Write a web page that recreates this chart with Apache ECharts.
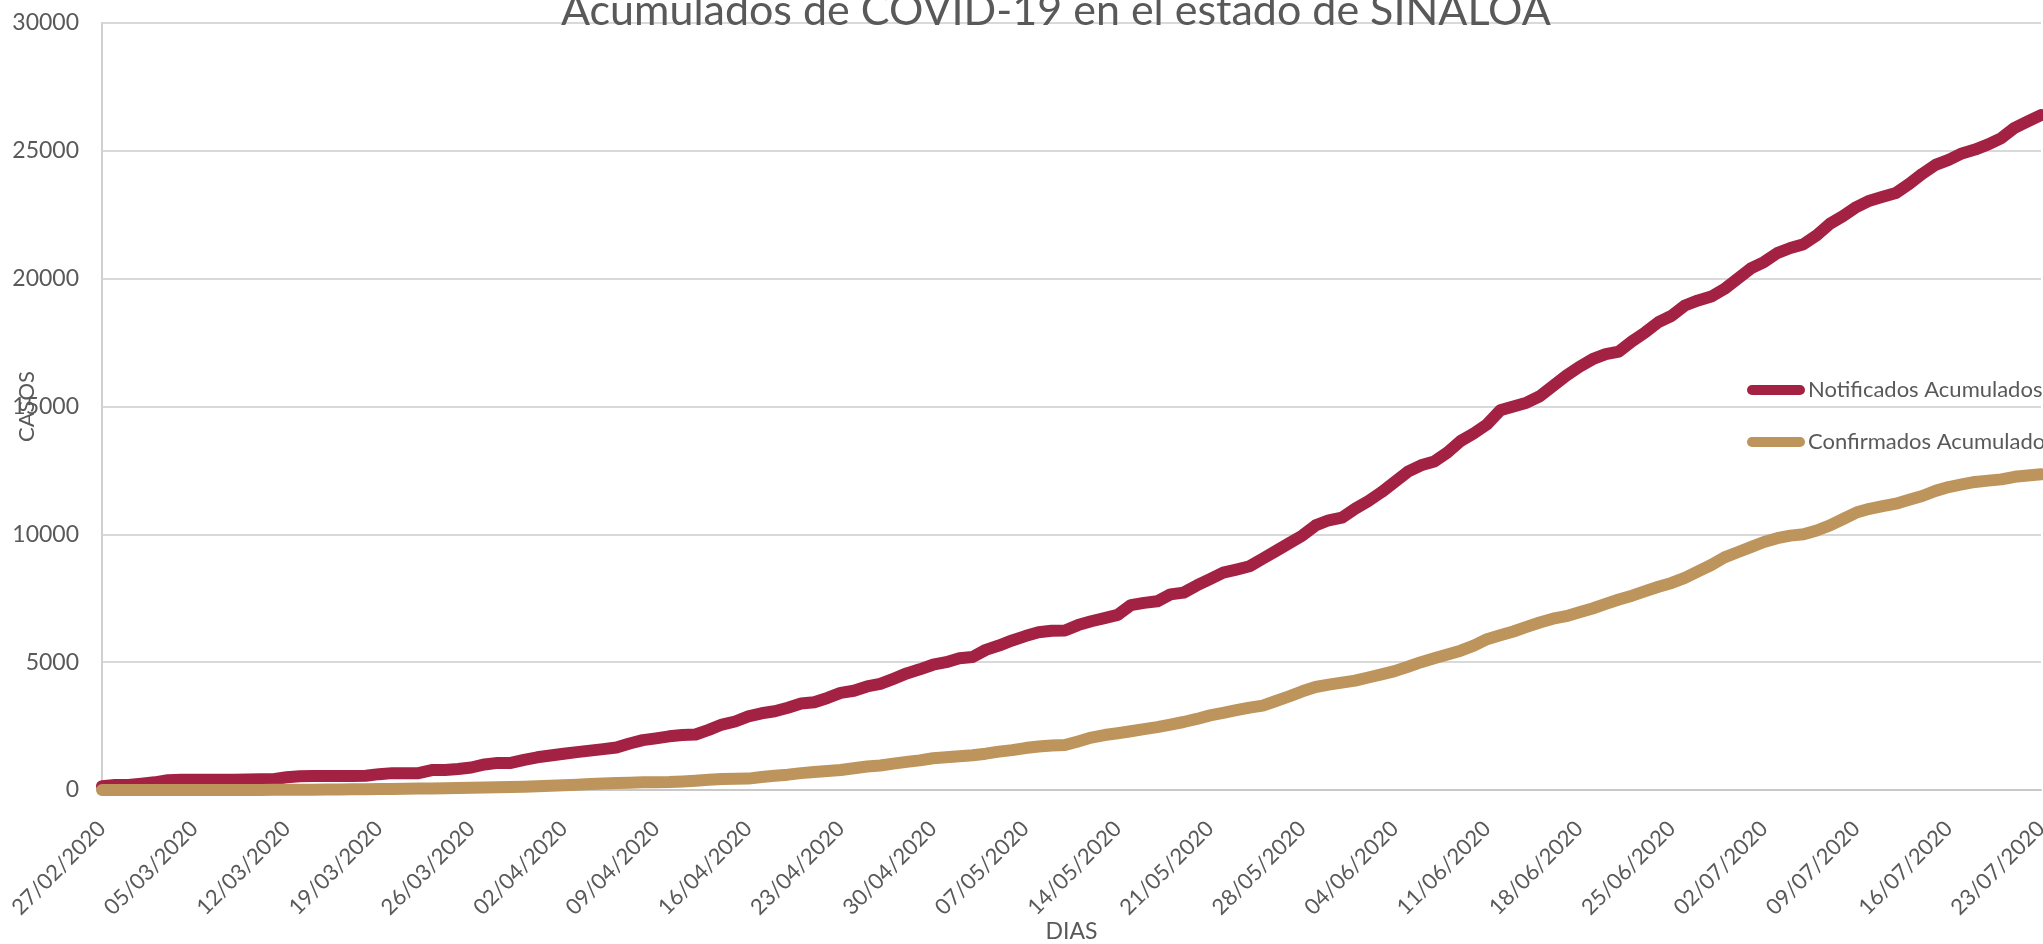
<!DOCTYPE html>
<html>
<head>
<meta charset="utf-8">
<script src="https://cdn.jsdelivr.net/npm/echarts@6/dist/echarts.min.js"></script>
<style>
  html, body { margin: 0; padding: 0; background: #fff; }
  #chart { width: 2043px; height: 944px; }
</style>
</head>
<body>
<div id="chart"></div>
<script>
var START_DATE = [2020, 1, 27]; // 27/02/2020
var NUM_DAYS = 148;

var notificados = [
    150, 200, 200, 250, 300, 380, 400, 400, 400, 400,
    400, 410, 420, 420, 500, 540, 550, 550, 550, 550,
    560, 620, 660, 660, 660, 780, 780, 820, 880, 1000,
    1060, 1060, 1180, 1280, 1350, 1420, 1480, 1540, 1600, 1660,
    1820, 1950, 2020, 2100, 2150, 2170, 2350, 2560, 2680, 2880,
    3000, 3080, 3220, 3380, 3430, 3600, 3800, 3880, 4050, 4150,
    4350, 4560, 4720, 4900, 5000, 5150, 5200, 5480, 5650, 5850,
    6020, 6170, 6230, 6240, 6450, 6600, 6720, 6850, 7230, 7320,
    7380, 7650, 7720, 8000, 8250, 8500, 8620, 8750, 9050, 9350,
    9650, 9950, 10350, 10550, 10650, 11000, 11300, 11650, 12050, 12450,
    12700, 12850, 13200, 13650, 13950, 14300, 14850, 15000, 15150, 15400,
    15800, 16200, 16550, 16850, 17050, 17150, 17550, 17900, 18300, 18550,
    18950, 19150, 19300, 19600, 20000, 20400, 20650, 21000, 21200, 21350,
    21700, 22150, 22450, 22800, 23050, 23200, 23350, 23700, 24100, 24450,
    24650, 24900, 25050, 25250, 25500, 25900, 26150, 26400
];

var confirmados = [
    1, 1, 2, 2, 2, 2, 2, 3, 3, 3,
    3, 4, 4, 5, 6, 8, 11, 16, 20, 25,
    30, 36, 42, 48, 55, 62, 70, 78, 86, 95,
    105, 115, 130, 150, 170, 190, 210, 230, 250, 270,
    285, 300, 305, 310, 330, 360, 400, 430, 440, 445,
    510, 560, 600, 660, 700, 740, 780, 850, 920, 960,
    1030, 1100, 1160, 1240, 1280, 1320, 1360, 1420, 1500, 1560,
    1640, 1700, 1740, 1760, 1900, 2050, 2150, 2220, 2300, 2380,
    2460, 2560, 2660, 2780, 2920, 3020, 3120, 3220, 3300, 3480,
    3660, 3860, 4030, 4120, 4200, 4280, 4400, 4520, 4650, 4820,
    5000, 5150, 5300, 5450, 5650, 5900, 6050, 6200, 6380, 6550,
    6700, 6800, 6950, 7100, 7280, 7450, 7600, 7780, 7950, 8100,
    8300, 8550, 8800, 9100, 9300, 9500, 9700, 9850, 9950, 10000,
    10150, 10350, 10600, 10850, 11000, 11100, 11200, 11350, 11500, 11700,
    11850, 11950, 12050, 12100, 12150, 12250, 12300, 12350
];

var seriesNames = ['Notificados Acumulados', 'Confirmados Acumulados'];

// dd/mm/yyyy categories, one per day
function pad(n) { return n < 10 ? '0' + n : '' + n; }
var dias = [];
for (var i = 0; i < NUM_DAYS; i++) {
    var d = new Date(START_DATE[0], START_DATE[1], START_DATE[2] + i);
    dias.push(pad(d.getDate()) + '/' + pad(d.getMonth() + 1) + '/' + d.getFullYear());
}

var FONT = 'Lato, "Open Sans", sans-serif';
var TEXT = '#595959';

var chart = echarts.init(document.getElementById('chart'));
var option = {
    backgroundColor: '#ffffff',
    animation: false,
    color: ['#a32143', '#bc945c'],
    title: {
        text: 'Acumulados de COVID-19 en el estado de SINALOA',
        left: 556,
        top: -15,
        textStyle: {
            fontFamily: FONT,
            fontWeight: 'normal',
            fontSize: 43,
            color: TEXT
        }
    },
    legend: {
        orient: 'vertical',
        left: 1742,
        top: 374,
        itemWidth: 58,
        itemHeight: 10,
        itemGap: 30,
        icon: 'path://M5,0H53A5,5,0,0,1,53,10H5A5,5,0,0,1,5,0Z',
        textStyle: {
            fontFamily: FONT,
            fontSize: 22,
            color: TEXT,
            padding: [0, 0, 0, -2]
        },
        data: seriesNames
    },
    grid: {
        left: 102,
        right: 2,
        top: 23,
        bottom: 154,
        containLabel: false,
        outerBoundsMode: 'none'
    },
    xAxis: {
        type: 'category',
        boundaryGap: false,
        data: dias,
        name: 'DIAS',
        nameLocation: 'middle',
        nameGap: 130,
        nameMoveOverlap: false,
        nameTextStyle: { fontFamily: FONT, fontSize: 23, color: TEXT },
        axisLine: { lineStyle: { color: '#c8c8c8', width: 2 } },
        axisTick: { show: false },
        axisLabel: {
            interval: 6,
            rotate: 45,
            margin: 35,
            fontFamily: FONT,
            fontSize: 22,
            color: TEXT
        },
        splitLine: { show: false }
    },
    yAxis: {
        type: 'value',
        min: 0,
        max: 30000,
        interval: 5000,
        name: 'CASOS',
        nameLocation: 'middle',
        nameRotate: 90,
        nameGap: 64,
        nameMoveOverlap: false,
        nameTextStyle: { fontFamily: FONT, fontSize: 22, color: TEXT },
        axisLine: { show: true, lineStyle: { color: '#d0d0d0', width: 2 } },
        axisTick: { show: false },
        axisLabel: {
            margin: 23,
            fontFamily: FONT,
            fontSize: 23,
            color: TEXT,
            formatter: function (v) { return String(v); }
        },
        splitLine: { lineStyle: { color: '#d9d9d9', width: 2 } }
    },
    series: [
        {
            name: seriesNames[0],
            type: 'line',
            data: notificados,
            symbol: 'none',
            lineStyle: { width: 12, cap: 'round', join: 'round' }
        },
        {
            name: seriesNames[1],
            type: 'line',
            data: confirmados,
            symbol: 'none',
            lineStyle: { width: 12, cap: 'round', join: 'round' }
        }
    ]
};
chart.setOption(option);
</script>
</body>
</html>
